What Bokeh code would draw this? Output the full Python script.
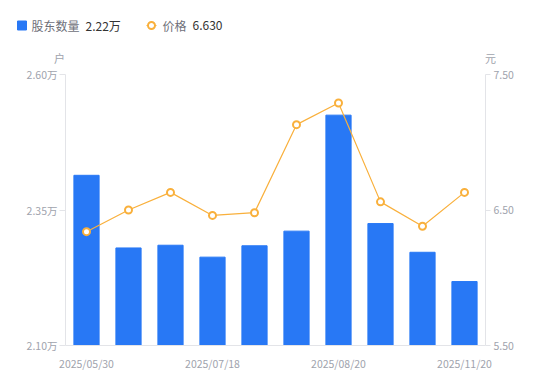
from bokeh.plotting import figure
from bokeh.layouts import column
from bokeh.models import (Range1d, LinearAxis, FixedTicker, CustomJSTickFormatter,
                          ColumnDataSource)
from bokeh.core.properties import value
from bokeh.embed import file_html
from bokeh.resources import INLINE

# ---- data ----
dates = ["2025/05/30", "2025/06/20", "2025/06/30", "2025/07/18", "2025/07/31",
         "2025/08/10", "2025/08/20", "2025/09/30", "2025/10/31", "2025/11/20"]
holders = [2.414, 2.280, 2.285, 2.263, 2.284, 2.311, 2.525, 2.325, 2.272, 2.218]  # 万户
prices = [6.34, 6.50, 6.63, 6.46, 6.48, 7.13, 7.29, 6.56, 6.38, 6.63]  # 元
shown_dates = [0, 3, 6, 9]
left_ticks = [2.10, 2.35, 2.60]
right_ticks = [5.50, 6.50, 7.50]
legend_holder_value = "2.22万"
legend_price_value = "6.630"

BLUE = "#2878F5"
ORANGE = "#F9B03C"
AXIS = "#E3E4E8"
LABEL = "#A0A3AD"
FONT = "Noto Sans CJK SC"

W = 534
TOP_H = 64
MAIN_H = 309

# ---------------- header (legend + unit labels) ----------------
hdr = figure(width=W, height=TOP_H, output_backend="svg", toolbar_location=None,
             x_range=Range1d(0, W), y_range=Range1d(TOP_H, 0),
             x_axis_location=None, y_axis_location=None,
             min_border=0, min_border_left=0, min_border_right=0,
             min_border_top=0, min_border_bottom=0)
hdr.frame_align = False
hdr.outline_line_color = None
hdr.grid.visible = False
hdr.border_fill_color = "white"

LY = 25
hdr.quad(left=[17], right=[26], top=[20.5], bottom=[29.5], fill_color=BLUE, line_color=BLUE)
hdr.segment(x0=[146], y0=[LY], x1=[156], y1=[LY], line_color=ORANGE, line_width=1.2)
hdr.scatter(x=[151], y=[LY], marker="circle", size=7, fill_color="white",
            line_color=ORANGE, line_width=2)
hdr.text(x=[31, 162], y=[LY, LY], text=["股东数量", "价格"], text_baseline="middle",
         text_color="#6E7079", text_font=value(FONT), text_font_size="12px")
hdr.text(x=[85, 192], y=[LY, LY], text=[legend_holder_value, legend_price_value],
         text_baseline="middle", text_color="#333333", text_font=value(FONT),
         text_font_size="12px")
hdr.text(x=[59, 490], y=[57, 57], text=["户", "元"], text_align="center",
         text_baseline="middle", text_color=LABEL, text_font=value(FONT),
         text_font_size="11px")

# ---------------- main chart ----------------
idx = list(range(len(dates)))
src = ColumnDataSource(dict(x=idx, holders=holders, prices=prices))

p = figure(width=W, height=MAIN_H, output_backend="svg", toolbar_location=None,
           x_range=Range1d(-0.5, len(dates) - 0.5),
           y_range=Range1d(left_ticks[0], left_ticks[-1]),
           min_border_left=65, min_border_right=W - 485, min_border_top=10,
           min_border_bottom=27)
p.frame_align = False
p.extra_y_ranges = {"price": Range1d(right_ticks[0], right_ticks[-1])}
p.outline_line_color = None
p.xgrid.visible = False
p.ygrid.visible = False
p.border_fill_color = "white"

p.vbar(x="x", top="holders", bottom=left_ticks[0], width=0.6, source=src,
       fill_color=BLUE, line_color=BLUE)
p.line(x="x", y="prices", source=src, y_range_name="price", line_color=ORANGE, line_width=1.2)
p.scatter(x="x", y="prices", source=src, y_range_name="price", marker="circle", size=7,
          fill_color="white", line_color=ORANGE, line_width=2)

# x axis
xa = p.xaxis[0]
xa.ticker = FixedTicker(ticks=shown_dates)
xa.major_label_overrides = {i: dates[i] for i in shown_dates}
xa.axis_line_color = AXIS
xa.major_tick_line_color = None
xa.minor_tick_line_color = None
xa.major_label_text_color = LABEL
xa.major_label_text_font = FONT
xa.major_label_text_font_size = "10.5px"
xa.major_label_standoff = 4

# left axis
ya = p.yaxis[0]
ya.ticker = FixedTicker(ticks=left_ticks)
ya.formatter = CustomJSTickFormatter(code="return tick.toFixed(2) + '万';")
ya.axis_line_color = AXIS
ya.major_tick_line_color = AXIS
ya.major_tick_out = 6
ya.major_tick_in = 0
ya.minor_tick_line_color = None
ya.major_label_text_color = LABEL
ya.major_label_text_font = FONT
ya.major_label_text_font_size = "10.5px"
ya.major_label_standoff = 2

# right axis
ra = LinearAxis(y_range_name="price", ticker=FixedTicker(ticks=right_ticks),
                formatter=CustomJSTickFormatter(code="return tick.toFixed(2);"))
ra.axis_line_color = AXIS
ra.major_tick_line_color = AXIS
ra.major_tick_out = 5
ra.major_tick_in = 0
ra.minor_tick_line_color = None
ra.major_label_text_color = LABEL
ra.major_label_text_font = FONT
ra.major_label_text_font_size = "10.5px"
ra.major_label_standoff = 3
p.add_layout(ra, "right")

layout = column(hdr, p, spacing=0)
open("out.html", "w").write(file_html(layout, INLINE))
